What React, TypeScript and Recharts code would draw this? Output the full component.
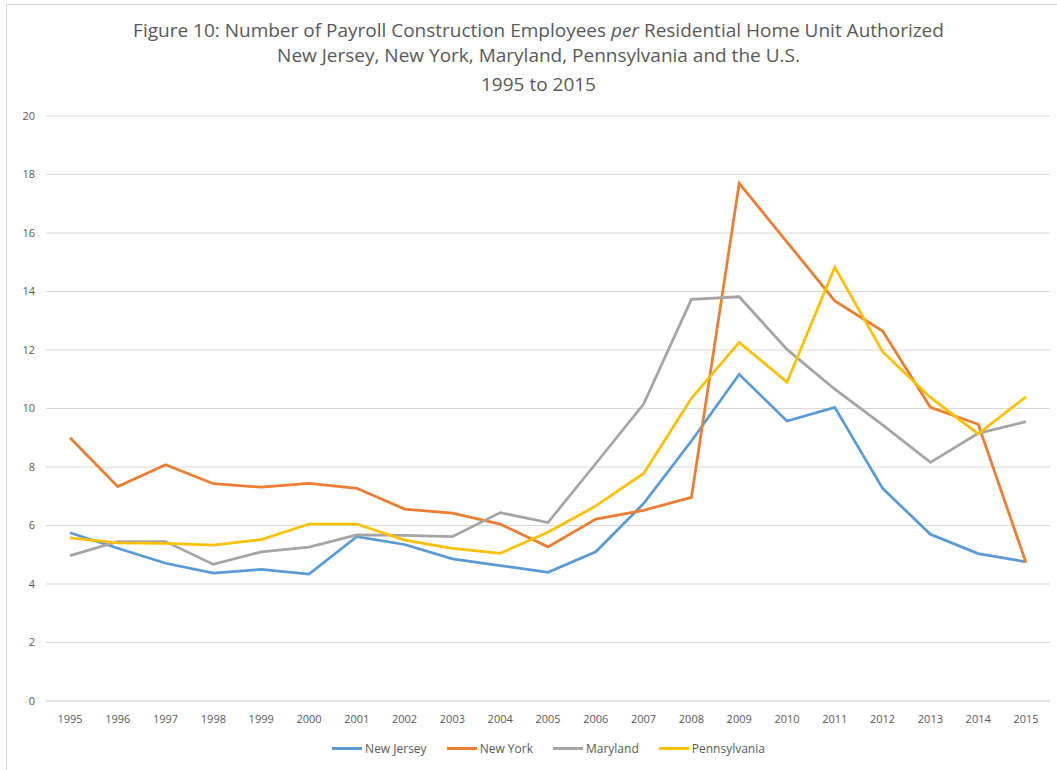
import { LineChart, Line, XAxis, YAxis, CartesianGrid } from 'recharts';

const years = [
  '1995', '1996', '1997', '1998', '1999', '2000', '2001', '2002', '2003', '2004', '2005',
  '2006', '2007', '2008', '2009', '2010', '2011', '2012', '2013', '2014', '2015',
];

const newJersey = [
  5.75, 5.22, 4.71, 4.37, 4.5, 4.34, 5.62, 5.35, 4.86, 4.63, 4.4,
  5.1, 6.75, 8.89, 11.17, 9.57, 10.04, 7.27, 5.7, 5.04, 4.76,
];
const newYork = [
  9.0, 7.33, 8.08, 7.43, 7.31, 7.44, 7.27, 6.56, 6.42, 6.05, 5.27,
  6.22, 6.52, 6.96, 17.7, 15.69, 13.68, 12.65, 10.04, 9.46, 4.73,
];
const maryland = [
  4.97, 5.45, 5.45, 4.67, 5.1, 5.26, 5.68, 5.66, 5.62, 6.44, 6.1,
  8.12, 10.15, 13.73, 13.82, 12.02, 10.66, 9.44, 8.16, 9.15, 9.55,
];
const pennsylvania = [
  5.58, 5.41, 5.39, 5.33, 5.52, 6.05, 6.05, 5.5, 5.22, 5.05, 5.77,
  6.67, 7.78, 10.35, 12.26, 10.9, 14.83, 11.94, 10.38, 9.13, 10.4,
];

const yTicks = [0, 2, 4, 6, 8, 10, 12, 14, 16, 18, 20];

const series = [
  { key: 'nj', name: 'New Jersey', color: '#5B9BD5' },
  { key: 'ny', name: 'New York', color: '#ED7D31' },
  { key: 'md', name: 'Maryland', color: '#A5A5A5' },
  { key: 'pa', name: 'Pennsylvania', color: '#FFC000' },
];

const data = years.map((year, i) => ({
  year,
  nj: newJersey[i],
  ny: newYork[i],
  md: maryland[i],
  pa: pennsylvania[i],
}));

const FONT = '"Open Sans", sans-serif';
const TEXT = '#595959';

export default function App() {
  return (
    <div
      style={{
        position: 'absolute',
        left: 0,
        top: 0,
        width: 1057,
        height: 770,
        background: '#fff',
        overflow: 'hidden',
      }}
    >
      <div
        style={{
          position: 'absolute',
          left: 6,
          top: 4,
          width: 1060,
          height: 780,
          border: '1px solid #d9d9d9',
        }}
      />
      <div
        style={{
          position: 'absolute',
          left: 0,
          width: 1077,
          top: 18,
          textAlign: 'center',
          fontFamily: FONT,
          fontSize: 19,
          color: TEXT,
          lineHeight: '25px',
        }}
      >
        <div>
          Figure 10: Number of Payroll Construction Employees <i>per</i> Residential Home Unit
          Authorized
        </div>
        <div>New Jersey, New York, Maryland, Pennsylvania and the U.S.</div>
        <div style={{ marginTop: 4 }}>1995 to 2015</div>
      </div>
      <LineChart
        width={1057}
        height={770}
        data={data}
        margin={{ top: 116, right: 7, bottom: 39, left: 0 }}
        style={{ position: 'absolute', left: 0, top: 0 }}
      >
        <CartesianGrid vertical={false} stroke="#d9d9d9" />
        <XAxis
          dataKey="year"
          axisLine={{ stroke: '#d9d9d9' }}
          tickLine={false}
          tick={{ fill: TEXT, fontSize: 11, fontFamily: FONT }}
          tickMargin={8}
          interval={0}
          padding={{ left: 24, right: 24 }}
        />
        <YAxis
          width={46}
          domain={[0, 20]}
          ticks={yTicks}
          axisLine={false}
          tickLine={false}
          tick={{ fill: TEXT, fontSize: 11, fontFamily: FONT }}
          tickMargin={5}
        />
        {series.map((s) => (
          <Line
            key={s.key}
            type="linear"
            dataKey={s.key}
            name={s.name}
            stroke={s.color}
            strokeWidth={2.75}
            dot={false}
            isAnimationActive={false}
          />
        ))}
      </LineChart>
      <div
        style={{
          position: 'absolute',
          left: 0,
          width: 1097,
          top: 740,
          display: 'flex',
          justifyContent: 'center',
          gap: 20,
          fontFamily: FONT,
          fontSize: 12,
          color: TEXT,
        }}
      >
        {series.map((s) => (
          <div key={s.key} style={{ display: 'flex', alignItems: 'center' }}>
            <div style={{ width: 30, height: 3, background: s.color, marginRight: 3 }} />
            <span>{s.name}</span>
          </div>
        ))}
      </div>
    </div>
  );
}
